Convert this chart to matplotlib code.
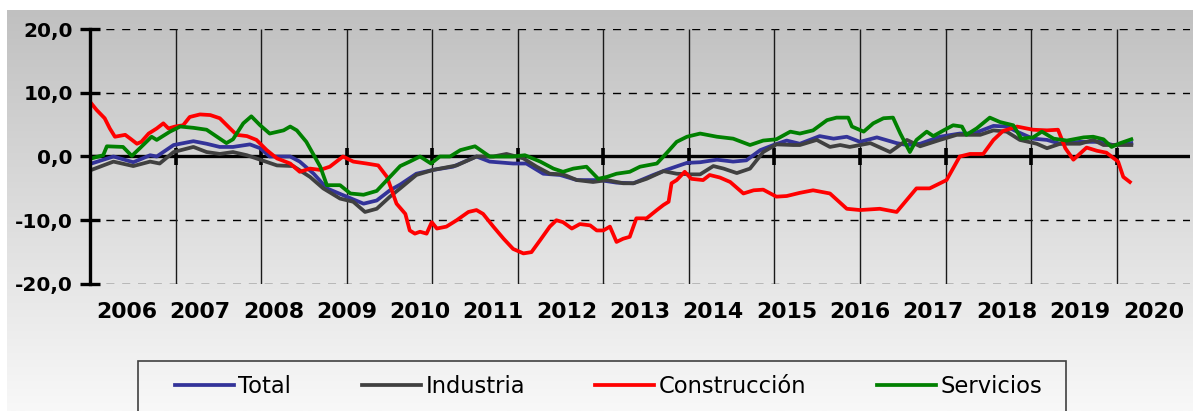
import numpy as np
import matplotlib
matplotlib.use("Agg")
import matplotlib.pyplot as plt
from matplotlib.colors import LinearSegmentedColormap
from matplotlib.ticker import FuncFormatter
from matplotlib.patches import Rectangle

# ---------------- data (decimal years, % values) ----------------
total_t = [2006.02, 2006.32, 2006.59, 2006.82, 2006.91, 2007.14, 2007.41, 2007.59, 2007.77, 2007.95,
           2008.18, 2008.32, 2008.45, 2008.73, 2008.86, 2009.05, 2009.23, 2009.50, 2009.73, 2009.91,
           2010.09, 2010.23, 2010.45, 2010.68, 2010.95, 2011.27, 2011.45, 2011.77, 2011.95, 2012.18,
           2012.41, 2012.64, 2012.95, 2013.18, 2013.41, 2013.68, 2013.86, 2014.14, 2014.32, 2014.55,
           2014.77, 2014.95, 2015.14, 2015.32, 2015.50, 2015.68, 2015.95, 2016.14, 2016.32, 2016.50,
           2016.73, 2017.00, 2017.14, 2017.32, 2017.59, 2017.86, 2018.05, 2018.32, 2018.50, 2018.64,
           2018.86, 2019.05, 2019.23, 2019.50, 2019.77, 2019.95, 2020.20]
total_v = [-1.1, 0.0, -0.9, 0.2, 0.0, 1.8, 2.4, 2.0, 1.5, 1.5,
           1.9, 1.3, 0.0, 0.0, -0.8, -2.7, -5.0, -6.3, -7.4, -6.9,
           -5.3, -4.4, -2.7, -2.1, -1.6, 0.0, -0.8, -1.1, -1.1, -2.7,
           -2.9, -3.7, -3.7, -4.1, -4.2, -2.9, -2.1, -1.0, -0.9, -0.5,
           -0.8, -0.6, 1.0, 1.8, 2.5, 2.0, 3.2, 2.8, 3.1, 2.3,
           3.0, 2.1, 1.8, 2.0, 3.1, 3.6, 3.6, 4.8, 4.7, 3.9,
           2.8, 2.6, 2.0, 2.3, 2.3, 1.8, 2.1]

industria_t = [2006.02, 2006.32, 2006.59, 2006.82, 2006.95, 2007.14, 2007.41, 2007.59, 2007.77, 2007.95,
               2008.14, 2008.32, 2008.55, 2008.77, 2009.00, 2009.18, 2009.41, 2009.59, 2009.75, 2009.91,
               2010.09, 2010.23, 2010.45, 2010.68, 2011.00, 2011.27, 2011.50, 2011.68, 2011.91, 2012.09,
               2012.27, 2012.45, 2012.64, 2012.86, 2013.05, 2013.27, 2013.41, 2013.59, 2013.82, 2014.00,
               2014.18, 2014.32, 2014.50, 2014.64, 2014.82, 2015.00, 2015.18, 2015.36, 2015.59, 2015.68,
               2015.91, 2016.09, 2016.23, 2016.36, 2016.64, 2016.91, 2017.14, 2017.32, 2017.59, 2017.82,
               2018.14, 2018.32, 2018.50, 2018.68, 2018.91, 2019.05, 2019.23, 2019.50, 2019.68, 2019.82,
               2020.00, 2020.20]
industria_v = [-2.1, -0.8, -1.5, -0.8, -1.1, 0.7, 1.5, 0.7, 0.4, 0.7,
               0.2, -0.5, -1.4, -1.5, -3.2, -5.0, -6.6, -7.1, -8.7, -8.2,
               -6.3, -5.0, -2.9, -2.1, -1.4, 0.0, 0.0, 0.4, -0.3, -1.6,
               -2.7, -2.8, -3.7, -4.0, -3.7, -4.2, -4.2, -3.5, -2.3, -2.7,
               -2.8, -2.8, -1.5, -1.9, -2.6, -1.9, 0.7, 1.9, 1.8, 1.8,
               2.6, 1.5, 1.8, 1.5, 2.1, 0.7, 2.6, 1.6, 2.6, 3.4,
               3.4, 4.1, 3.9, 2.6, 2.0, 1.3, 2.0, 2.0, 2.6, 1.8,
               1.8, 1.8]

construccion_t = [2006.02, 2006.09, 2006.20, 2006.27, 2006.34, 2006.48, 2006.55, 2006.64, 2006.70, 2006.80,
                  2006.91, 2007.00, 2007.07, 2007.16, 2007.27, 2007.36, 2007.50, 2007.64, 2007.77, 2007.91,
                  2008.00, 2008.14, 2008.27, 2008.41, 2008.55, 2008.73, 2008.86, 2009.00, 2009.14, 2009.27,
                  2009.45, 2009.59, 2009.77, 2009.93, 2010.05, 2010.18, 2010.30, 2010.36, 2010.43, 2010.50,
                  2010.59, 2010.66, 2010.73, 2010.86, 2011.00, 2011.16, 2011.27, 2011.36, 2011.50, 2011.64,
                  2011.77, 2011.91, 2012.02, 2012.14, 2012.27, 2012.36, 2012.45, 2012.57, 2012.68, 2012.82,
                  2012.91, 2013.00, 2013.09, 2013.18, 2013.27, 2013.36, 2013.45, 2013.59, 2013.73, 2013.82,
                  2013.89, 2013.93, 2014.00, 2014.11, 2014.20, 2014.36, 2014.45, 2014.59, 2014.73, 2014.91,
                  2015.05, 2015.18, 2015.36, 2015.50, 2015.68, 2015.86, 2016.09, 2016.32, 2016.50, 2016.77,
                  2017.00, 2017.27, 2017.45, 2017.68, 2017.86, 2018.00, 2018.18, 2018.32, 2018.45, 2018.64,
                  2018.86, 2019.05, 2019.20, 2019.30, 2019.41, 2019.59, 2019.73, 2019.86, 2020.02, 2020.09,
                  2020.18]
construccion_v = [8.3, 7.3, 6.0, 4.4, 3.1, 3.4, 2.8, 2.0, 2.3, 3.6,
                  4.4, 5.2, 4.4, 4.7, 4.9, 6.2, 6.6, 6.5, 6.0, 4.4,
                  3.4, 3.2, 2.6, 1.0, -0.3, -1.1, -2.4, -1.9, -2.1, -1.6,
                  0.0, -0.8, -1.1, -1.4, -3.2, -7.4, -9.0, -11.6, -12.1, -11.8,
                  -12.1, -10.3, -11.3, -11.0, -10.0, -8.7, -8.4, -9.0, -11.0, -12.9,
                  -14.5, -15.2, -15.0, -13.1, -11.0, -10.0, -10.3, -11.3, -10.6, -10.8,
                  -11.6, -11.6, -11.0, -13.4, -12.9, -12.6, -9.7, -9.7, -8.4, -7.6,
                  -7.1, -4.2, -3.7, -2.4, -3.5, -3.7, -2.9, -3.3, -4.0, -5.8,
                  -5.3, -5.2, -6.3, -6.2, -5.7, -5.3, -5.8, -8.2, -8.4, -8.2,
                  -8.7, -5.0, -5.0, -3.7, 0.0, 0.4, 0.4, 2.6, 4.0, 4.7,
                  4.2, 4.1, 4.2, 1.3, -0.5, 1.4, 0.9, 0.6, -0.8, -3.2,
                  -4.0]

servicios_t = [2006.02, 2006.18, 2006.23, 2006.45, 2006.57, 2006.68, 2006.84, 2006.91, 2007.09, 2007.23,
               2007.41, 2007.59, 2007.86, 2007.95, 2008.09, 2008.20, 2008.32, 2008.45, 2008.64, 2008.73,
               2008.82, 2008.95, 2009.14, 2009.23, 2009.41, 2009.55, 2009.73, 2009.91, 2010.09, 2010.23,
               2010.36, 2010.50, 2010.65, 2010.77, 2010.91, 2011.05, 2011.25, 2011.45, 2011.64, 2011.77,
               2011.93, 2012.14, 2012.32, 2012.45, 2012.59, 2012.77, 2012.93, 2013.05, 2013.18, 2013.36,
               2013.50, 2013.73, 2013.86, 2014.00, 2014.14, 2014.32, 2014.55, 2014.77, 2015.00, 2015.18,
               2015.36, 2015.55, 2015.68, 2015.86, 2016.05, 2016.18, 2016.34, 2016.39, 2016.55, 2016.68,
               2016.82, 2016.95, 2017.05, 2017.18, 2017.27, 2017.41, 2017.50, 2017.64, 2017.77, 2017.89,
               2017.95, 2018.09, 2018.27, 2018.41, 2018.59, 2018.70, 2018.86, 2018.98, 2019.14, 2019.32,
               2019.55, 2019.68, 2019.82, 2019.93, 2020.05, 2020.20]
servicios_v = [-0.3, 0.2, 1.6, 1.5, 0.1, 1.3, 3.1, 2.6, 3.9, 4.7,
               4.5, 4.2, 2.1, 2.7, 5.2, 6.3, 4.9, 3.6, 4.1, 4.7,
               4.1, 2.3, -1.6, -4.5, -4.5, -5.8, -6.0, -5.4, -3.2, -1.5,
               -0.8, 0.0, -1.1, 0.0, 0.0, 1.0, 1.6, 0.0, 0.0, 0.0,
               0.2, -0.8, -1.9, -2.4, -1.9, -1.6, -3.5, -3.2, -2.7, -2.4,
               -1.6, -1.1, 0.5, 2.3, 3.1, 3.6, 3.1, 2.8, 1.8, 2.5,
               2.7, 3.9, 3.6, 4.1, 5.7, 6.1, 6.1, 4.7, 3.9, 5.2,
               6.0, 6.1, 3.6, 0.7, 2.6, 3.9, 3.2, 4.1, 4.9, 4.7,
               3.4, 4.4, 6.1, 5.4, 4.9, 2.8, 3.0, 3.9, 2.8, 2.5,
               3.0, 3.1, 2.7, 1.5, 2.1, 2.7]

series_names = ["Total", "Industria", "Construcción", "Servicios"]
series_colors = ["#333399", "#404040", "#ff0000", "#008000"]
year_labels = [str(y) for y in range(2006, 2021)]
y_ticks = [-20, -10, 0, 10, 20]

# ---------------- figure ----------------
W, H = 1193, 411
fig = plt.figure(figsize=(W / 100, H / 100), dpi=100)
fig.patch.set_facecolor("white")

# gradient background panel
bg = fig.add_axes([7 / W, 0, 1 - 7 / W, 401 / H], zorder=0)
grad = np.linspace(0, 1, 256).reshape(-1, 1)
cmap = LinearSegmentedColormap.from_list("g", ["#c0c0c0", "#f8f8f8"])
bg.imshow(grad, aspect="auto", cmap=cmap, extent=[0, 1, 0, 1], origin="upper")
bg.axis("off")

ax = fig.add_axes([90 / W, (H - 284) / H, 1100 / W, 255 / H], zorder=1)
ax.patch.set_alpha(0)

x0, x1 = 2006.0, 2006.0 + 15.0
ax.set_xlim(x0, x1)
ax.set_ylim(-20, 20)

# grid lines
for yv in y_ticks:
    if yv != 0:
        ax.axhline(yv, color="black", lw=1.0, ls=(0, (5.8, 5.6)), zorder=1)
grid_x = [x0 + k * 14 / 12 for k in range(1, 13)]
ax.vlines(grid_x, -20, 20, color="#1a1a1a", lw=1.0, zorder=1)

# zero axis with tick marks
ax.axhline(0, color="black", lw=2.4, zorder=2)
ax.vlines(grid_x, -1.3, 1.3, color="black", lw=2.6, zorder=2)

# series
all_t = [total_t, industria_t, construccion_t, servicios_t]
all_v = [total_v, industria_v, construccion_v, servicios_v]
handles = []
for t, v, name, c in zip(all_t, all_v, series_names, series_colors):
    h, = ax.plot(t, v, color=c, lw=2.7, label=name, zorder=3, solid_joinstyle="round")
    handles.append(h)

# spines / ticks
for s in ["top", "right", "bottom"]:
    ax.spines[s].set_visible(False)
ax.spines["left"].set_linewidth(2.4)
ax.spines["left"].set_zorder(4)
ax.set_yticks(y_ticks)
ax.yaxis.set_major_formatter(FuncFormatter(lambda v, p: f"{v:.1f}".replace(".", ",")))
ax.tick_params(axis="y", direction="inout", length=14.5, width=2.4, pad=5.0,
               labelsize=14.5, colors="black")
for lab in ax.get_yticklabels():
    lab.set_fontweight("bold")

ax.set_xticks([y + 0.5 for y in range(2006, 2021)])
ax.set_xticklabels(year_labels, fontsize=15.8, fontweight="bold")
ax.tick_params(axis="x", length=0, pad=13)

# legend: frame drawn as rectangle, entries spread between handle start and text end
fig.patches.append(Rectangle((138 / W, -0.02), 928 / W, (411 - 361) / H + 0.02,
                             transform=fig.transFigure, fill=False,
                             edgecolor="#404040", lw=1.2, zorder=5))
leg = fig.legend(handles, series_names, loc="center left",
                 bbox_to_anchor=(175 / W, 1 - 386 / H, (1042 - 175) / W, 0), mode="expand",
                 ncol=4, fontsize=16.3, handlelength=2.6, handletextpad=0.2,
                 borderpad=0, borderaxespad=0, frameon=False)
for lh in leg.get_lines():
    lh.set_linewidth(2.7)

fig.savefig("out.png", dpi=100, facecolor=fig.get_facecolor())
